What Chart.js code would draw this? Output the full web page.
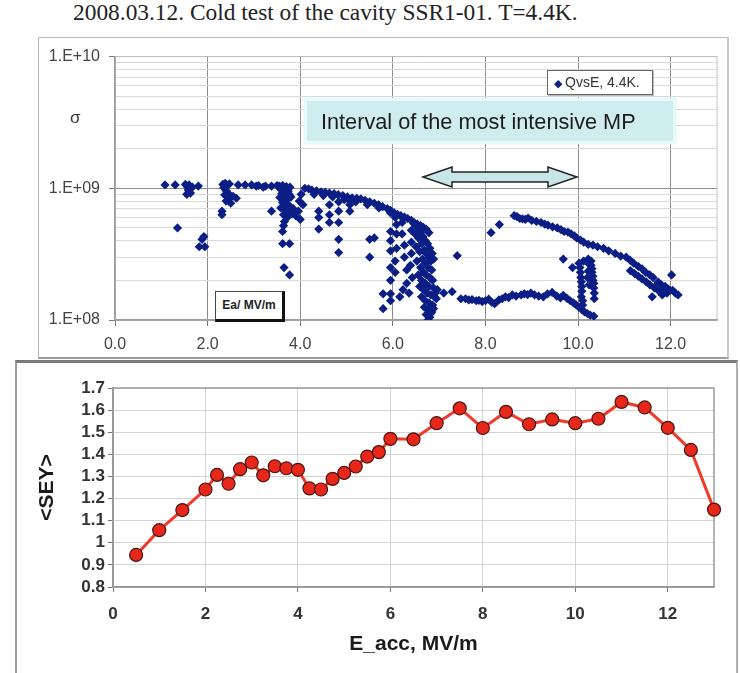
<!DOCTYPE html>
<html>
<head>
<meta charset="utf-8">
<script src="https://cdn.jsdelivr.net/npm/chart.js@4.4.1/dist/chart.umd.min.js"></script>
<style>
  body { margin: 0; width: 740px; height: 673px; background: #fff; position: relative; overflow: hidden; font-family: "Liberation Sans", Arial, sans-serif; }
  #title { position: absolute; left: 73px; top: -1px; font-family: "Liberation Serif", "Times New Roman", serif; font-size: 23.4px; color: #222; white-space: nowrap; }
  #topFrame { position: absolute; left: 38px; top: 37px; width: 688px; height: 319px; border: 1px solid #b8b8b8; border-bottom: 2px solid #9a9a9a; border-right: 2px solid #c8c8c8; }
  #botFrame { position: absolute; left: 15px; top: 360px; width: 719px; height: 330px; border-top: 3px solid #7a7a7a; border-left: 2px solid #9a9a9a; border-right: 2px solid #b0b0b0; }
  canvas { position: absolute; }
  #topChart { left: 38px; top: 38px; }
  #botChart { left: 15px; top: 362px; }
  .sigma { position: absolute; left: 70px; top: 108px; font-size: 17px; color: #333; }
  #legendBox { position: absolute; left: 547px; top: 70px; width: 104px; height: 23px; background: #fff; border: 1px solid #666; box-shadow: 1px 1px 0 #bbb; font-size: 14px; color: #333; line-height: 23px; white-space: nowrap; }
  #legendBox .mk { color: #0b1e86; font-size: 11px; margin: 0 3px 0 6px; }
  #mpBox { position: absolute; left: 304px; top: 98px; width: 366px; height: 40px; background: #cfecee; border: 3px solid #e6fafa; box-shadow: 0 0 2px #d6f2f2; }
  #mpBox span { position: absolute; left: 14px; top: 8px; font-size: 21.7px; color: #1c1c1c; white-space: nowrap; }
  #arrow { position: absolute; left: 420px; top: 165px; }
  #eaBox { position: absolute; left: 215px; top: 291px; width: 66px; height: 27px; background: #fff; border: 1px solid #444; border-right: 3px solid #111; border-bottom: 3px solid #111; font-size: 12px; font-weight: bold; color: #222; line-height: 27px; text-align: center; white-space: nowrap; }
</style>
</head>
<body>
<div id="title">2008.03.12. Cold test of the cavity SSR1-01. T=4.4K.</div>
<div id="topFrame"></div>
<div id="botFrame"></div>
<canvas id="topChart" width="690" height="320"></canvas>
<canvas id="botChart" width="722" height="311"></canvas>
<div class="sigma">σ</div>
<div id="legendBox"><span class="mk">◆</span>QvsE, 4.4K.</div>
<div id="mpBox"><span>Interval of the most intensive MP</span></div>
<svg id="arrow" width="162" height="24" viewBox="0 0 162 24">
  <polygon points="3,12 32,2 32,7 128,7 128,2 157,12 128,22 128,17 32,17 32,22" fill="#c6e6e8" stroke="#222" stroke-width="1.5"/>
</svg>
<div id="eaBox">Ea/ MV/m</div>
<script>
// ---- top chart: Q vs E at 4.4K (Q stored in units of 1e8) ----
const qE = [
  1.08, 1.30, 1.52, 1.56, 1.60, 1.58, 1.63, 1.55, 1.67, 1.80, 1.35, 1.92, 1.82, 1.94, 1.88,
  2.33, 2.38, 2.42, 2.47, 2.35, 2.40, 2.44, 2.37, 2.46, 2.40, 2.62, 2.55, 2.31, 2.31, 2.50,
  2.66, 2.81, 2.95, 3.10, 3.25, 3.38, 3.50, 3.20, 3.05,
  3.55, 3.62, 3.70, 3.78, 3.58, 3.66, 3.74, 3.60, 3.68, 3.76, 3.56, 3.64, 3.72, 3.80, 3.62, 3.70, 3.78,
  3.58, 3.66, 3.74, 3.64, 3.72, 3.82, 3.66, 3.64, 3.38, 3.62, 3.62, 3.77, 3.65, 3.77, 3.85, 3.90,
  3.96, 4.06, 4.00, 3.98, 4.02,
  4.10, 4.18, 4.25, 4.35, 4.45, 4.54, 4.63, 4.73, 4.82, 4.92, 5.02, 5.12, 5.22, 5.31, 5.40, 5.50, 5.60,
  5.69, 5.78, 5.88, 5.95, 6.03, 6.10, 6.17, 6.25, 6.32, 6.40, 6.46, 6.53, 6.60, 6.66, 6.72, 6.78,
  4.30, 4.50, 4.70, 4.95, 5.20, 5.45, 5.70, 5.95, 6.20, 6.45,
  4.40, 4.40, 4.40, 4.63, 4.63, 4.63, 4.83, 4.83, 4.83, 4.83, 4.83, 5.07, 5.07, 5.07, 5.50, 5.50, 5.60, 5.79, 5.79,
  5.95, 5.95, 5.95, 5.95, 5.95, 5.95, 5.95, 6.05, 6.08, 6.08, 6.08, 6.05, 6.05, 6.20, 6.20, 6.25, 6.25,
  6.30, 6.30, 6.22, 6.35, 6.15, 6.40, 6.40, 6.40, 6.38, 6.42,
  6.50, 6.55, 6.60, 6.65, 6.70, 6.75, 6.80, 6.55, 6.62, 6.68, 6.72, 6.78, 6.82, 6.50, 6.58, 6.64, 6.70,
  6.76, 6.84, 6.60, 6.66, 6.72, 6.80, 6.86, 6.55, 6.62, 6.70, 6.78, 6.88, 6.58, 6.66, 6.74, 6.82, 6.90,
  6.62, 6.70, 6.78, 6.86, 6.94, 6.68, 6.76, 6.84, 6.72, 6.80, 6.76, 6.82, 6.88, 6.92, 6.96, 6.85, 6.88, 6.52, 6.48,
  7.10, 7.28, 7.39,
  7.47, 7.57, 7.64, 7.71, 7.80, 7.86, 7.93, 8.00, 8.07, 8.14, 8.20, 8.29, 8.36, 8.43, 8.50, 8.58,
  8.66, 8.77, 8.84, 8.91, 8.98, 9.06, 9.15, 9.25, 9.34, 9.44, 9.54, 9.62, 9.68, 9.76, 9.83,
  9.90, 9.96, 10.02, 10.08, 10.14, 10.20, 10.26, 10.34,
  9.68, 9.88, 10.02, 10.04, 10.05, 10.06, 10.07, 10.08, 10.08, 10.07, 10.10, 10.10, 10.12,
  10.28, 10.28, 10.30, 10.30, 10.32, 10.32, 10.34, 10.34, 10.35, 10.35, 10.22, 10.24, 10.22, 10.20, 10.24,
  8.12, 8.30, 8.62, 8.68, 8.74, 8.80, 8.86, 8.92, 9.00, 9.10, 9.20, 9.28, 9.35, 9.45, 9.55, 9.63, 9.70,
  9.78, 9.85, 9.92, 9.97, 10.05, 10.12, 10.22, 10.32, 10.42, 10.55, 10.66, 10.80, 10.92, 11.04, 11.12,
  11.20, 11.30, 11.38, 11.46, 11.55, 11.62, 11.73, 11.80, 11.88, 11.95, 12.04, 12.10, 12.16, 12.02,
  11.13, 11.22, 11.30, 11.38, 11.47, 11.55, 11.65, 11.60, 11.75, 11.85, 11.92, 11.70, 11.82
];
const qQ = [
  10.6, 10.6, 10.7, 10.3, 10.6, 9.7, 9.2, 9.0, 10.2, 10.4, 5.0, 4.3, 3.6, 3.6, 4.1,
  10.7, 10.9, 10.5, 10.8, 10.1, 9.6, 9.2, 8.9, 8.4, 8.0, 8.4, 8.7, 6.7, 6.3, 7.7,
  10.6, 10.6, 10.6, 10.5, 10.4, 10.4, 10.5, 10.2, 10.4,
  10.4, 10.5, 10.3, 10.2, 9.8, 9.6, 9.5, 9.1, 8.9, 9.0, 8.5, 8.3, 8.2, 8.6, 7.8, 7.6, 7.3,
  7.1, 6.9, 6.6, 6.3, 6.0, 6.4, 5.6, 5.2, 6.7, 4.7, 3.8, 3.8, 2.5, 2.2, 7.0, 6.2,
  6.7, 7.5, 5.8, 8.0, 9.0,
  10.0, 9.9, 9.7, 9.55, 9.4, 9.3, 9.2, 9.1, 8.95, 8.8, 8.6, 8.45, 8.4, 8.3, 8.1, 7.9, 7.7,
  7.5, 7.25, 7.0, 6.8, 6.5, 6.35, 6.2, 6.05, 5.9, 5.7, 5.5, 5.35, 5.2, 5.05, 4.9, 4.6,
  9.0, 8.8, 8.6, 8.2, 7.9, 7.5, 7.1, 6.5, 6.0, 5.4,
  6.7, 6.0, 4.9, 7.5, 6.3, 5.5, 7.9, 6.7, 5.5, 4.1, 3.25, 8.0, 7.5, 6.7, 4.1, 3.0, 4.2, 1.58, 1.22,
  4.7, 4.0, 3.35, 2.5, 2.0, 1.58, 1.4, 6.0, 5.3, 4.5, 3.5, 2.8, 2.3, 5.5, 4.5, 3.7, 3.0,
  2.4, 1.9, 1.7, 1.6, 1.5, 4.8, 3.9, 3.2, 2.6, 2.1,
  5.2, 4.9, 4.6, 4.3, 4.0, 3.8, 3.5, 4.2, 3.8, 3.4, 3.2, 3.0, 2.8, 3.6, 3.3, 2.9, 2.7,
  2.5, 2.4, 2.5, 2.3, 2.2, 2.1, 2.0, 2.2, 2.0, 1.9, 1.8, 1.75, 1.8, 1.7, 1.6, 1.55, 1.5,
  1.5, 1.4, 1.35, 1.3, 1.45, 1.25, 1.2, 1.15, 1.1, 1.05, 1.0, 1.12, 1.22, 1.6, 1.7, 3.2, 2.9, 2.8, 4.5,
  1.6, 1.64, 3.08,
  1.45, 1.45, 1.42, 1.43, 1.40, 1.41, 1.38, 1.40, 1.44, 1.36, 1.33, 1.42, 1.45, 1.50, 1.48, 1.55,
  1.52, 1.55, 1.58, 1.56, 1.60, 1.55, 1.52, 1.50, 1.58, 1.62, 1.52, 1.47, 1.54, 1.46, 1.40,
  1.35, 1.30, 1.25, 1.20, 1.15, 1.12, 1.09, 1.07,
  2.9, 2.5, 2.7, 2.5, 2.3, 2.1, 1.95, 1.8, 1.65, 1.5, 1.4, 1.3, 2.8,
  2.8, 2.6, 2.45, 2.3, 2.15, 2.0, 1.9, 1.75, 1.6, 1.45, 2.9, 2.65, 2.35, 2.1, 1.85,
  4.6, 5.3, 6.2, 6.1, 5.9, 5.85, 5.8, 5.95, 5.7, 5.6, 5.5, 5.35, 5.25, 5.1, 5.0, 4.85, 4.7,
  4.65, 4.5, 4.35, 4.2, 4.05, 3.9, 3.75, 3.7, 3.6, 3.5, 3.35, 3.2, 3.05, 3.0, 2.85,
  2.7, 2.55, 2.45, 2.3, 2.2, 2.1, 1.94, 1.85, 1.8, 1.72, 1.68, 1.6, 1.55, 2.2,
  2.37, 2.25, 2.15, 2.05, 1.95, 1.85, 1.75, 1.5, 1.65, 1.7, 1.6, 1.85, 1.55
];
const qDecades = [1e8, 1e9, 1e10];
const qDecadeLabels = ['1.E+08', '1.E+09', '1.E+10'];
const qMinorSteps = [1, 2, 3, 4, 5, 6, 7, 8, 9];
const qXTickLabels = ['0.0', '2.0', '4.0', '6.0', '8.0', '10.0', '12.0'];

// ---- bottom chart: <SEY> vs E_acc ----
const seyE = [0.5, 1, 1.5, 2, 2.25, 2.5, 2.75, 3, 3.25, 3.5, 3.75, 4, 4.25, 4.5, 4.75, 5, 5.25, 5.5, 5.75,
  6, 6.5, 7, 7.5, 8, 8.5, 9, 9.5, 10, 10.5, 11, 11.5, 12, 12.5, 13];
const seyVal = [0.945, 1.057, 1.148, 1.241, 1.307, 1.267, 1.333, 1.363, 1.305, 1.346, 1.337, 1.330, 1.246, 1.241, 1.289, 1.316, 1.345, 1.390, 1.410,
  1.470, 1.468, 1.541, 1.608, 1.519, 1.592, 1.536, 1.558, 1.541, 1.561, 1.637, 1.612, 1.520, 1.420, 1.150];
const seyTicks = [0.8, 0.9, 1.0, 1.1, 1.2, 1.3, 1.4, 1.5, 1.6, 1.7];
const seyTickLabels = ['0.8', '0.9', '1', '1.1', '1.2', '1.3', '1.4', '1.5', '1.6', '1.7'];

const plotBorder = {
  id: 'plotBorder',
  beforeDatasetsDraw(chart, args, opts) {
    const { ctx, chartArea: { left, top, right, bottom } } = chart;
    ctx.save();
    ctx.strokeStyle = opts.color;
    ctx.lineWidth = opts.width;
    ctx.strokeRect(left, top, right - left, bottom - top);
    ctx.restore();
  }
};

const qGrid = [];
qDecades.forEach((d, i) => {
  if (i < qDecades.length - 1) qMinorSteps.forEach(m => qGrid.push(m * d));
  else qGrid.push(d);
});

new Chart(document.getElementById('topChart'), {
  type: 'scatter',
  data: {
    datasets: [{
      label: 'QvsE, 4.4K.',
      data: qE.map((e, i) => ({ x: e, y: qQ[i] * 1e8 })),
      backgroundColor: '#0b1e86',
      borderColor: '#0b1e86',
      pointStyle: 'rectRot',
      pointRadius: 4.6,
      pointBorderWidth: 0
    }]
  },
  options: {
    responsive: false,
    animation: false,
    layout: { padding: { left: 0, right: 11, top: 12, bottom: 0 } },
    plugins: { legend: { display: false }, tooltip: { enabled: false }, plotBorder: { color: '#c4c4c4', width: 1 } },
    scales: {
      x: {
        type: 'linear', min: 0, max: 13,
        afterFit(s) { s.height = 38; },
        ticks: { stepSize: 2, includeBounds: false, autoSkip: false, padding: 9, color: '#444',
          font: { family: 'Liberation Sans', size: 16 },
          callback: (v) => qXTickLabels[v / 2] },
        grid: { color: '#8e8e8e', tickLength: 6, tickColor: '#777' },
        border: { color: '#777', width: 1.5 }
      },
      y: {
        type: 'logarithmic', min: 1e8, max: 1e10,
        afterFit(s) { s.width = 77; },
        afterBuildTicks(s) { s.ticks = qGrid.map(v => ({ value: v })); },
        ticks: { autoSkip: false, padding: 9, color: '#444',
          font: { family: 'Liberation Sans', size: 16 },
          callback: (v) => { const i = qDecades.indexOf(v); return i >= 0 ? qDecadeLabels[i] : ''; } },
        grid: {
          tickLength: 6,
          color: (c) => qDecades.includes(c.tick && c.tick.value) ? '#8e8e8e' : '#dadada',
          tickColor: (c) => qDecades.includes(c.tick && c.tick.value) ? '#777' : 'rgba(0,0,0,0)'
        },
        border: { color: '#777', width: 1.5 }
      }
    }
  },
  plugins: [plotBorder]
});

new Chart(document.getElementById('botChart'), {
  type: 'line',
  data: {
    datasets: [{
      label: '<SEY>',
      data: seyE.map((e, i) => ({ x: e, y: seyVal[i] })),
      borderColor: '#f03a2a',
      borderWidth: 3,
      backgroundColor: '#e8271b',
      pointBackgroundColor: '#e8271b',
      pointBorderColor: '#4a1510',
      pointBorderWidth: 1.2,
      pointRadius: 6.5,
      tension: 0,
      clip: false
    }]
  },
  options: {
    responsive: false,
    animation: false,
    layout: { padding: { left: 0, right: 23, top: 26, bottom: 0 } },
    plugins: { legend: { display: false }, tooltip: { enabled: false }, plotBorder: { color: '#9a9a9a', width: 1.5 } },
    scales: {
      x: {
        type: 'linear', min: 0, max: 13,
        afterFit(s) { s.height = 86; },
        ticks: { stepSize: 2, includeBounds: false, autoSkip: false, padding: 12, color: '#333',
          font: { family: 'Liberation Sans', size: 17, weight: 'bold' } },
        grid: { color: '#d4d4d4', tickLength: 5, tickColor: '#777' },
        border: { color: '#8a8a8a', width: 1.5 },
        title: { display: true, text: 'E_acc, MV/m', color: '#1a1a1a',
          font: { family: 'Liberation Sans', size: 21, weight: 'bold' }, padding: { top: 0, bottom: 16 } }
      },
      y: {
        type: 'linear', min: 0.8, max: 1.7,
        afterFit(s) { s.width = 98; },
        afterBuildTicks(s) { s.ticks = seyTicks.map(v => ({ value: v })); },
        ticks: { autoSkip: false, padding: 3, color: '#333',
          font: { family: 'Liberation Sans', size: 17, weight: 'bold' },
          callback: (v, i) => seyTickLabels[i] },
        grid: { color: '#d4d4d4', tickLength: 5, tickColor: '#777' },
        border: { color: '#8a8a8a', width: 1.5 },
        title: { display: true, text: '<SEY>', color: '#1a1a1a',
          font: { family: 'Liberation Sans', size: 21, weight: 'bold' }, padding: { top: 20, bottom: 0 } }
      }
    }
  },
  plugins: [plotBorder]
});
</script>
</body>
</html>
